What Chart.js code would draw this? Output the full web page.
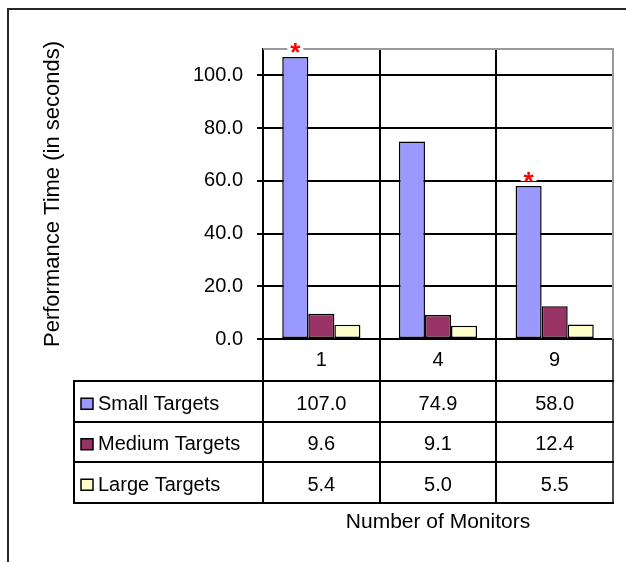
<!DOCTYPE html>
<html>
<head>
<meta charset="utf-8">
<script src="https://cdn.jsdelivr.net/npm/chart.js@4.4.1/dist/chart.umd.min.js"></script>
<style>
  html, body { margin: 0; padding: 0; background: #ffffff; }
  #wrap { width: 626px; height: 562px; }
  canvas { display: block; }
</style>
</head>
<body>
<div id="wrap"><canvas id="c" width="626" height="562"></canvas></div>
<script>
// ---- data ----
const categories = ['1', '4', '9'];
const seriesNames = ['Small Targets', 'Medium Targets', 'Large Targets'];
const smallTargets = [107.0, 74.9, 58.0];
const mediumTargets = [9.6, 9.1, 12.4];
const largeTargets = [5.4, 5.0, 5.5];
const smallSignificant = [true, false, true];
const yTickValues = [0, 20, 40, 60, 80, 100];
const yAxisTitle = 'Performance Time (in seconds)';
const xAxisTitle = 'Number of Monitors';

const seriesColors = ['#9999FF', '#993366', '#FFFFCC'];
const FONT = 'Arial, "Liberation Sans", sans-serif';

const tablePlugin = {
  id: 'tablePlugin',
  afterDraw(chart) {
    const ctx = chart.ctx;
    const xs = chart.scales.x;
    const area = chart.chartArea;
    const n = categories.length;
    const colW = (xs.right - xs.left) / n;
    const bounds = [];
    for (let i = 0; i <= n; i++) bounds.push(xs.left + i * colW);

    const labelRowBottom = area.bottom + 42;
    const rowH = 40.5;
    const tableBottom = labelRowBottom + rowH * seriesNames.length;
    const tableLeft = 74;

    ctx.save();
    // outer frame
    ctx.strokeStyle = '#262626';
    ctx.lineWidth = 2;
    ctx.strokeRect(8, 9, 800, 800);

    // vertical table lines
    ctx.strokeStyle = '#000000';
    ctx.lineWidth = 2;
    bounds.forEach((bx, i) => {
      ctx.beginPath();
      ctx.moveTo(Math.round(bx), area.bottom);
      ctx.lineTo(Math.round(bx), tableBottom);
      ctx.strokeStyle = i === n ? '#505050' : '#000000';
      ctx.stroke();
    });
    ctx.strokeStyle = '#000000';
    ctx.beginPath();
    ctx.moveTo(tableLeft, labelRowBottom);
    ctx.lineTo(tableLeft, tableBottom);
    ctx.stroke();
    // horizontal table lines
    for (let r = 0; r <= seriesNames.length; r++) {
      const y = Math.round(labelRowBottom + r * rowH);
      ctx.beginPath();
      ctx.moveTo(tableLeft - 1, y);
      ctx.lineTo(bounds[n] + 1, y);
      ctx.stroke();
    }

    // plot area top/right border (gray)
    ctx.strokeStyle = '#9a9a9a';
    ctx.lineWidth = 2;
    ctx.beginPath();
    ctx.moveTo(area.left, area.top);
    ctx.lineTo(area.right, area.top);
    ctx.lineTo(area.right, area.bottom);
    ctx.stroke();

    // legend keys + values
    const allSeries = [smallTargets, mediumTargets, largeTargets];
    ctx.font = '20px ' + FONT;
    ctx.textBaseline = 'middle';
    seriesNames.forEach((name, r) => {
      const cy = labelRowBottom + r * rowH + rowH / 2 + 3;
      ctx.fillStyle = seriesColors[r];
      ctx.fillRect(81, cy - 6, 12, 11);
      ctx.strokeStyle = '#000000';
      ctx.lineWidth = 1.5;
      ctx.strokeRect(81, cy - 6, 12, 11);
      ctx.fillStyle = '#000000';
      ctx.textAlign = 'left';
      ctx.fillText(name, 98, cy);
      ctx.textAlign = 'center';
      allSeries[r].forEach((v, i) => {
        ctx.fillText(v.toFixed(1), xs.getPixelForValue(i), cy);
      });
    });

    // significance asterisks above small-target bars
    const meta = chart.getDatasetMeta(0);
    const fs = 26;
    ctx.font = 'bold ' + fs + 'px ' + FONT;
    ctx.textAlign = 'center';
    ctx.textBaseline = 'alphabetic';
    smallSignificant.forEach((sig, i) => {
      if (!sig) return;
      const bar = meta.data[i];
      const cy = bar.y - 11;
      ctx.fillStyle = '#ffffff';
      ctx.fillRect(bar.x - 8, cy - 6, 16, 12);
      ctx.fillStyle = '#ff0000';
      ctx.fillText('*', bar.x, cy + 0.57 * fs);
    });
    ctx.restore();
  }
};

new Chart(document.getElementById('c'), {
  type: 'bar',
  data: {
    labels: categories,
    datasets: [
      { label: seriesNames[0], data: smallTargets, backgroundColor: seriesColors[0] },
      { label: seriesNames[1], data: mediumTargets, backgroundColor: seriesColors[1] },
      { label: seriesNames[2], data: largeTargets, backgroundColor: seriesColors[2] }
    ].map(d => Object.assign(d, {
      borderColor: '#000000', borderWidth: 1.5, borderSkipped: false,
      categoryPercentage: 0.67, barPercentage: 1.0
    }))
  },
  options: {
    responsive: false,
    animation: false,
    devicePixelRatio: 1,
    layout: { padding: { left: 0, top: 49, right: 13, bottom: 0 } },
    plugins: { legend: { display: false }, tooltip: { enabled: false } },
    scales: {
      x: {
        offset: true,
        grid: { display: true, offset: true, color: '#000000', lineWidth: 2, drawTicks: false },
        border: { display: true, color: '#000000', width: 2 },
        ticks: { color: '#000000', padding: 9, font: { family: FONT, size: 20 } },
        title: {
          display: true, text: xAxisTitle, color: '#000000',
          font: { family: FONT, size: 21 }, padding: { top: 0, bottom: 27 }
        },
        afterFit(scale) { scale.height = 223; }
      },
      y: {
        min: 0, max: 110,
        ticks: {
          stepSize: 20, color: '#000000', padding: 14,
          font: { family: FONT, size: 20 },
          callback: v => Number(v).toFixed(1)
        },
        afterBuildTicks(scale) {
          scale.ticks = yTickValues.map(v => ({ value: v }));
        },
        grid: { color: '#000000', lineWidth: 2, tickLength: 6, drawTicks: true },
        border: { display: true, color: '#000000', width: 2 },
        title: {
          display: true, text: yAxisTitle, color: '#000000',
          font: { family: FONT, size: 22 }, padding: { top: 40, bottom: 0 }
        },
        afterFit(scale) { scale.width = 263; }
      }
    }
  },
  plugins: [tablePlugin]
});
</script>
</body>
</html>
